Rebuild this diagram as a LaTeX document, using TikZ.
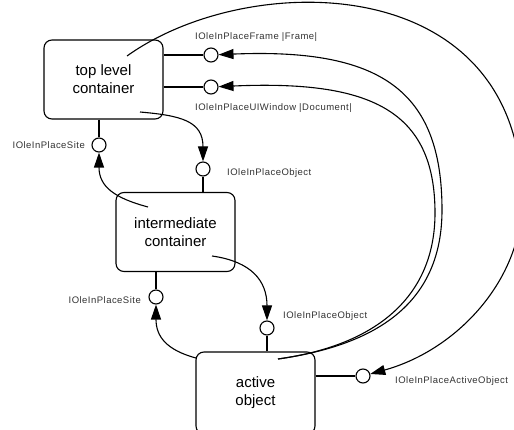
\documentclass[tikz,border=0pt]{standalone}
\usepackage{fontspec}
\setmainfont{Liberation Sans}
\usetikzlibrary{arrows.meta}
\tikzstyle{box}=[draw,rounded corners=8pt,line width=1.1pt,minimum width=119pt,minimum height=79pt,align=center,inner sep=0pt,font=\fontsize{15}{18}\selectfont]
\tikzstyle{port}=[circle,draw,fill=white,line width=1.1pt,minimum size=14pt,inner sep=0pt]
\tikzstyle{portname}=[text=black!80,inner sep=0pt,font=\fontsize{9.5}{11}\selectfont\addfontfeature{LetterSpace=5}]
\tikzstyle{stub}=[draw,line width=1.1pt]
\tikzstyle{call}=[draw,line width=1.1pt,-{Triangle[length=15pt,width=10pt]}]

\begin{document}
\begin{tikzpicture}[x=1pt,y=1pt]
\useasboundingbox (0,0) rectangle (514,-430);

% containers
\node[box] (top) at (103.5,-79.5) {top level\\container};
\node[box] (mid) at (175.5,-232) {intermediate\\container};
\node[box,minimum height=82pt] (act) at (255.5,-393) {active\\object};

% interfaces
\foreach \pos/\name in {{(211,-55)/frame}, {(211,-87)/uiwin}, {(99,-145)/sitetop}, {(203,-169)/objtop}, {(156,-297)/sitelow}, {(267,-328)/objlow}, {(363,-376)/actobj}}
    \node[port] (\name) at \pos {};

\foreach \port/\side in {frame/top.east, uiwin/top.east, actobj/act.east}
    \path[stub] (\side |- \port) -- (\port);
\foreach \port/\side in {sitetop/top.south, objtop/mid.north, sitelow/mid.south, objlow/act.north}
    \path[stub] (\port |- \side) -- (\port);

% Label
\foreach \pos/\anc/\name/\txt in {{(195,-37)/west/lframe/IOleInPlaceFrame |Frame|}, {(195,-108)/west/luiwin/IOleInPlaceUIWindow |Document|}, {(85,-145)/east/lsitetop/IOleInPlaceSite}, {(227,-173)/west/lobjtop/IOleInPlaceObject}, {(141,-300)/east/lsitelow/IOleInPlaceSite}, {(283,-316)/west/lobjlow/IOleInPlaceObject}, {(395,-381)/west/lactobj/IOleInPlaceActiveObject}}
    \node[portname,anchor=\anc] (\name) at \pos {\txt};

% calls
\coordinate (s1) at (140,-112);
\coordinate (s2) at (148,-207);
\coordinate (s3) at (212,-256);
\coordinate (s4) at (196,-358);
\coordinate (s5) at (278,-359);
\coordinate (s6) at (127,-56);

\draw[call] (s1) to [out=-5, in=90, looseness=1.3] (objtop);
\draw[call] (s2) to [out=165, in=-90, looseness=1.2] (sitetop);
\draw[call] (s3) to [out=-8, in=90, looseness=1.2] (objlow);
\draw[call] (s4) to [out=165, in=-90, looseness=1.2] (sitelow);
\draw[call] (s5) .. controls (388,-343.5) and (442,-295) .. (442,-210) .. controls (442,-90) and (380,-48) .. (frame);
\draw[call] (s5) .. controls (385,-344) and (435,-290) .. (435,-213) .. controls (435,-110) and (370,-80) .. (uiwin);
\draw[call] (s6) .. controls (250,32) and (522,30) .. (522,-200) .. controls (522,-280) and (457,-350) .. (actobj);

\end{tikzpicture}
\end{document}
